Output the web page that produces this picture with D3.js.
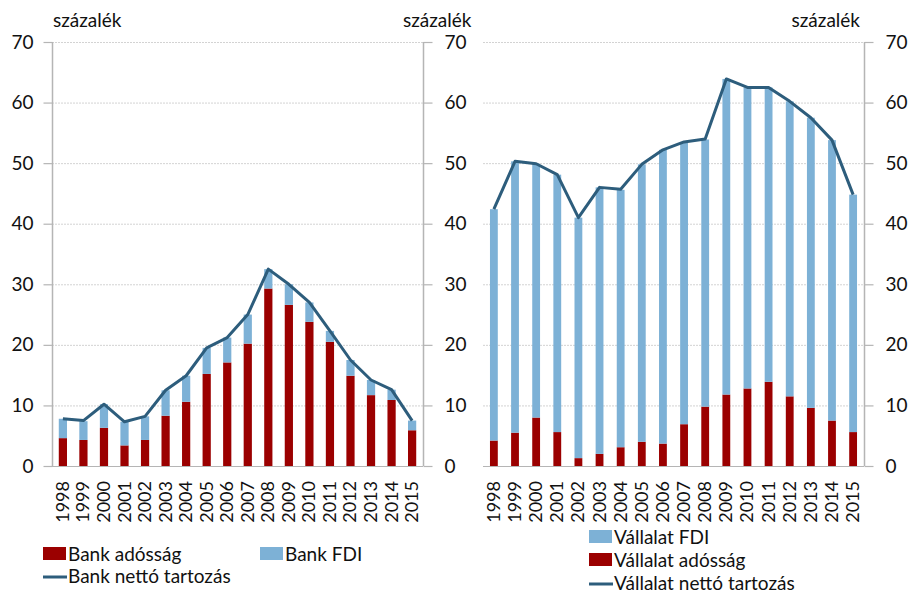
<!DOCTYPE html>
<html><head><meta charset="utf-8">
<script src="https://cdn.jsdelivr.net/npm/d3@7"></script>
<style>
body{margin:0;background:#fff;}
svg text{font-family:Lato,"Open Sans",sans-serif;fill:#111;}
</style></head>
<body><svg id="c" width="909" height="592"></svg>
<script>
const years = ["1998","1999","2000","2001","2002","2003","2004","2005","2006","2007","2008","2009","2010","2011","2012","2013","2014","2015"];
const yTicks = [0,10,20,30,40,50,60,70];
const unitLabel = "százalék";

// Left panel: banks
const bankDebt = [4.6,4.3,6.3,3.4,4.3,8.3,10.6,15.2,17.1,20.2,29.3,26.6,23.8,20.5,14.9,11.7,10.9,5.9];
const bankFDI  = [3.2,3.1,3.9,3.9,3.9,4.2,4.3,4.3,4.1,4.8,3.2,3.4,3.2,1.8,2.6,2.5,1.7,1.6];
const bankNet  = [7.8,7.5,10.2,7.3,8.2,12.5,14.9,19.5,21.2,25.0,32.5,30.0,27.0,22.3,17.5,14.2,12.6,7.5];
const bankLegend = ["Bank adósság","Bank FDI","Bank nettó tartozás"];

// Right panel: corporates
const corpDebt = [4.2,5.5,8.0,5.6,1.3,2.0,3.1,4.0,3.7,6.9,9.8,11.8,12.8,13.9,11.5,9.6,7.5,5.6];
const corpFDI  = [38.2,44.8,41.9,42.5,39.7,44.0,42.5,45.8,48.5,46.6,44.1,52.1,49.7,48.6,48.7,47.9,46.3,39.2];
const corpNet  = [42.4,50.3,49.9,48.1,41.0,46.0,45.7,49.8,52.2,53.5,54.0,63.9,62.5,62.5,60.2,57.5,53.8,44.8];
const corpLegend = ["Vállalat FDI","Vállalat adósság","Vállalat nettó tartozás"];

const RED = "#9b0000", BLUE = "#7db1d6", LINE = "#2d5d7c";
const svg = d3.select("#c");
const FS = 19;

const y = d3.scaleLinear().domain([0,70]).range([466,42]);

function panel(x0, x1, debt, fdi, net, opts){
  const g = svg.append("g");
  const x = d3.scaleBand().domain(years).range([x0,x1]).paddingInner(opts.pi).paddingOuter(opts.po);
  // grid
  g.append("g").selectAll("line").data(yTicks.filter(d=>d>0)).join("line")
    .attr("x1",x0).attr("x2",x1).attr("y1",d=>y(d)+0.5).attr("y2",d=>y(d)+0.5)
    .attr("stroke","#d3d3d3").attr("stroke-width",1).attr("stroke-dasharray","2,1");
  // bars
  const bg = g.append("g");
  years.forEach((yr,i)=>{
    bg.append("rect").attr("x",x(yr)).attr("width",x.bandwidth())
      .attr("y",y(debt[i])).attr("height",y(0)-y(debt[i])).attr("fill",RED);
    bg.append("rect").attr("x",x(yr)).attr("width",x.bandwidth())
      .attr("y",y(debt[i]+fdi[i])).attr("height",y(debt[i])-y(debt[i]+fdi[i])).attr("fill",BLUE);
  });
  // line
  const line = d3.line().x((d,i)=>x(years[i])+x.bandwidth()/2).y(d=>y(d));
  g.append("path").datum(net).attr("d",line).attr("fill","none")
    .attr("stroke",LINE).attr("stroke-width",3).attr("stroke-linejoin","round");
  // baseline
  g.append("line").attr("x1",x0).attr("x2",x1).attr("y1",y(0)+0.5).attr("y2",y(0)+0.5)
    .attr("stroke","#b5b5b5").attr("stroke-width",1.2);
  // year labels
  g.append("g").selectAll("text").data(years).join("text")
    .attr("transform",d=>`translate(${x(d)+x.bandwidth()/2+6},481) rotate(-90)`)
    .attr("text-anchor","end").attr("font-size",18).text(d=>d);
  return x;
}

function axis(xPos, side){
  const g = svg.append("g");
  const ax = side==="left" ? d3.axisLeft(y) : d3.axisRight(y);
  ax.tickValues(yTicks).tickSize(9).tickPadding(side==="left"?10:12).tickFormat(d3.format("d"));
  g.attr("transform",`translate(${xPos},0)`).call(ax);
  g.select(".domain").attr("stroke","#b5b5b5").attr("stroke-width",1.5).attr("d",`M0,${y(70)}V${y(0)}`);
  g.selectAll(".tick line").attr("stroke","#b5b5b5").attr("stroke-width",1.2);
  g.selectAll(".tick text").attr("font-size",FS).attr("font-family","Lato").attr("fill","#111");
  return g;
}

panel(52, 423, bankDebt, bankFDI, bankNet, {pi:0.6, po:0.33});
panel(483, 864, corpDebt, corpFDI, corpNet, {pi:0.63, po:0.33});
axis(52.5, "left");
axis(423.5, "right");
axis(864.5, "right");

// unit labels
svg.append("text").attr("x",53).attr("y",27).attr("font-size",FS).text(unitLabel);
svg.append("text").attr("x",403).attr("y",27).attr("font-size",FS).text(unitLabel);
svg.append("text").attr("x",860).attr("y",27).attr("font-size",FS).attr("text-anchor","end").text(unitLabel);

// legends
function legendItem(x, yb, type, color, label){
  if(type==="rect") svg.append("rect").attr("x",x).attr("y",yb-14).attr("width",23).attr("height",13).attr("fill",color);
  else svg.append("line").attr("x1",x).attr("x2",x+24).attr("y1",yb-6).attr("y2",yb-6).attr("stroke",color).attr("stroke-width",3);
  svg.append("text").attr("x",x+25).attr("y",yb).attr("font-size",FS).text(label);
}
legendItem(43, 561, "rect", RED, bankLegend[0]);
legendItem(260, 561, "rect", BLUE, bankLegend[1]);
legendItem(43, 583, "line", LINE, bankLegend[2]);
legendItem(589, 544, "rect", BLUE, corpLegend[0]);
legendItem(589, 567, "rect", RED, corpLegend[1]);
legendItem(589, 590, "line", LINE, corpLegend[2]);
</script></body></html>
